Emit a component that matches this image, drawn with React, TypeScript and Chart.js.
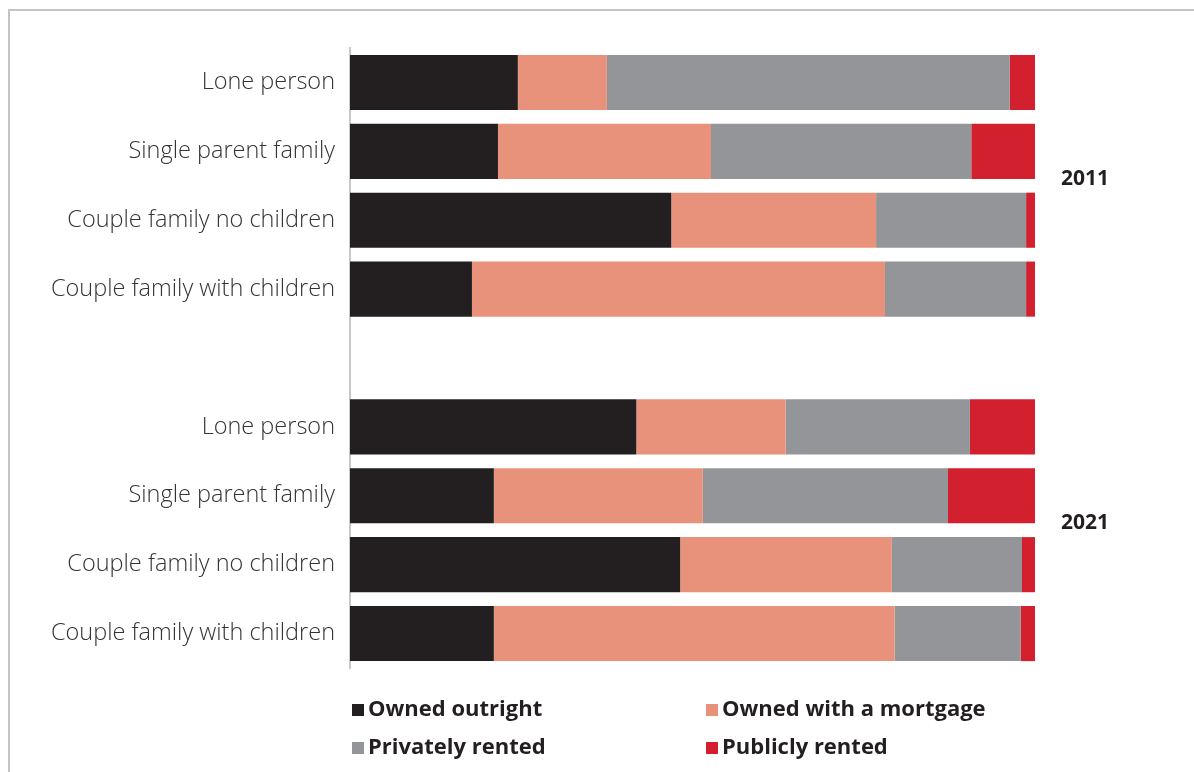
import React, { useEffect, useRef } from "react";
import { Chart, registerables } from "chart.js";

Chart.register(...registerables);

const categories = [
  "Lone person",
  "Single parent family",
  "Couple family no children",
  "Couple family with children",
  "",
  "Lone person",
  "Single parent family",
  "Couple family no children",
  "Couple family with children",
];

const yearLabels = ["2011", "2021"];

const ownedOutright = [24.5, 21.6, 46.9, 17.8, null, 41.8, 21.0, 48.2, 21.0];
const ownedMortgage = [13.0, 31.1, 29.9, 60.3, null, 21.8, 30.5, 30.9, 58.5];
const privatelyRented = [58.8, 38.0, 21.9, 20.6, null, 26.9, 35.8, 19.0, 18.4];
const publiclyRented = [3.7, 9.3, 1.3, 1.3, null, 9.5, 12.7, 1.9, 2.1];

const seriesNames = ["Owned outright", "Owned with a mortgage", "Privately rented", "Publicly rented"];
const seriesColors = ["#231f20", "#e8927c", "#939598", "#d2202f"];

const overlayPlugin = {
  id: "overlay",
  afterDraw(chart: any) {
    const ctx = chart.ctx;
    ctx.save();
    // frame
    ctx.strokeStyle = "#c4c4c4";
    ctx.lineWidth = 2;
    ctx.beginPath();
    ctx.moveTo(9, 772);
    ctx.lineTo(9, 10);
    ctx.lineTo(1194, 10);
    ctx.stroke();

    // year labels
    const y = chart.scales.y;
    ctx.fillStyle = "#231f20";
    ctx.font = "bold 21px 'Open Sans'";
    ctx.textBaseline = "middle";
    ctx.textAlign = "left";
    const mid1 = (y.getPixelForValue(1) + y.getPixelForValue(2)) / 2;
    const mid2 = (y.getPixelForValue(6) + y.getPixelForValue(7)) / 2;
    ctx.fillText(yearLabels[0], 1061, mid1 - 7);
    ctx.fillText(yearLabels[1], 1061, mid2 - 7);

    // legend
    const pos = [
      [352, 709],
      [706, 709],
      [352, 747],
      [706, 747],
    ];
    ctx.font = "bold 22px 'Open Sans'";
    for (let i = 0; i < 4; i++) {
      const [lx, ly] = pos[i];
      ctx.fillStyle = seriesColors[i];
      ctx.fillRect(lx, ly - 5, 12, 12);
      ctx.fillStyle = "#231f20";
      ctx.fillText(seriesNames[i], lx + 16, ly + 1);
    }
    ctx.restore();
  },
};

export default function App() {
  const ref = useRef<HTMLCanvasElement | null>(null);
  useEffect(() => {
    if (!ref.current) return;
    const data = [ownedOutright, ownedMortgage, privatelyRented, publiclyRented];
    const chart = new Chart(ref.current, {
      type: "bar",
      data: {
        labels: categories,
        datasets: data.map((d, i) => ({
          label: seriesNames[i],
          data: d,
          backgroundColor: seriesColors[i],
          borderWidth: 0,
          barPercentage: 0.8,
          categoryPercentage: 1,
        })),
      },
      options: {
        indexAxis: "y",
        animation: false,
        responsive: false,
        maintainAspectRatio: false,
        layout: { padding: { left: 0, right: 159, top: 48, bottom: 104 } },
        plugins: { legend: { display: false }, tooltip: { enabled: false } },
        scales: {
          x: {
            stacked: true,
            min: 0,
            max: 100,
            display: false,
          },
          y: {
            stacked: true,
            grid: { display: false },
            border: { display: true, color: "#c8c8c8", width: 2 },
            ticks: {
              color: "#333333",
              padding: 7,
              font: { family: "'Open Sans'", size: 23.5, weight: "300" },
            },
            afterFit(scale: any) {
              scale.width = 350;
            },
          },
        },
      },
      plugins: [overlayPlugin],
    });
    return () => chart.destroy();
  }, []);
  return (
    <div style={{ position: "absolute", left: 0, top: 0, width: 1194, height: 772, background: "#fff" }}>
      <canvas ref={ref} width={1194} height={772} style={{ display: "block" }} />
    </div>
  );
}
